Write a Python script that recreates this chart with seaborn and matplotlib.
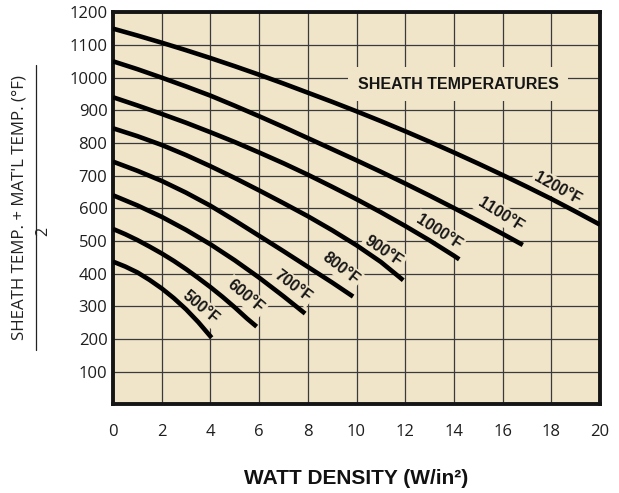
import numpy as np
import pandas as pd
import matplotlib
matplotlib.use("Agg")
import matplotlib.pyplot as plt
from matplotlib.lines import Line2D
import seaborn as sns

# ---------------- data ----------------
curve_names = ["500°F", "600°F", "700°F", "800°F", "900°F", "1000°F", "1100°F", "1200°F"]

x_500 = [0, 0.5, 1, 1.5, 2, 2.5, 3, 3.5, 4.05]
y_500 = [437, 422, 404, 381, 355, 325, 291, 252, 204]

x_600 = [0, 0.5, 1, 1.5, 2, 2.5, 3, 3.5, 4, 4.5, 5, 5.5, 5.9]
y_600 = [537, 521, 503, 483, 462, 439, 414, 387, 359, 329, 297, 263, 238]

x_700 = [0, 1, 2, 3, 4, 5, 6, 7, 7.89]
y_700 = [640, 609, 574, 534, 490, 441, 388, 331, 278]

x_800 = [0, 1, 2, 3, 4, 5, 6, 7, 8, 9, 9.86]
y_800 = [743, 715, 684, 648, 608, 563, 516, 469, 421, 373, 330]

x_900 = [0, 1, 2, 3, 4, 5, 6, 7, 8, 9, 10, 11, 11.92]
y_900 = [845, 821, 794, 763, 729, 693, 655, 616, 576, 533, 487, 436, 380]

x_1000 = [0, 1, 2, 3, 4, 5, 6, 7, 8, 9, 10, 11, 12, 13, 14, 14.22]
y_1000 = [940, 915, 889, 862, 833, 803, 771, 738, 703, 666, 628, 588, 546, 502, 455, 444]

x_1100 = [0, 1, 2, 3, 4, 5, 6, 7, 8, 9, 10, 11, 12, 13, 14, 15, 16, 16.83]
y_1100 = [1050, 1026, 1000, 973, 945, 914, 882, 849, 815, 781, 747, 712, 676, 639, 601, 562, 522, 488]

x_1200 = list(range(0, 21))
y_1200 = [1150, 1129, 1107, 1084, 1060, 1035, 1009, 982, 954, 926, 897,
          867, 836, 804, 771, 737, 702, 666, 629, 590, 550]

x_ticks = [0, 2, 4, 6, 8, 10, 12, 14, 16, 18, 20]
y_ticks = [100, 200, 300, 400, 500, 600, 700, 800, 900, 1000, 1100, 1200]

title_text = "SHEATH TEMPERATURES"
x_label = "WATT DENSITY (W/in²)"
y_label_top = "SHEATH TEMP. + MAT'L TEMP. (°F)"
y_label_bottom = "2"

# label layout (position in data units, rotation in degrees)
label_pos = [(3.6, 297), (5.45, 330), (7.38, 362), (9.35, 416),
             (11.12, 469), (13.38, 528), (15.92, 582), (18.27, 661)]
label_rot = [-40, -40, -37, -38, -34, -33, -32, -29]
title_pos = (14.18, 980)

# ---------------- build table ----------------
xs = [x_500, x_600, x_700, x_800, x_900, x_1000, x_1100, x_1200]
ys = [y_500, y_600, y_700, y_800, y_900, y_1000, y_1100, y_1200]
frames = []
for name, xv, yv in zip(curve_names, xs, ys):
    frames.append(pd.DataFrame({"watt": xv, "temp": yv, "curve": name}))
df = pd.concat(frames, ignore_index=True)

# ---------------- style ----------------
bg = "#f0e4c9"
sns.set_theme(style="white")
plt.rcParams["font.family"] = ["Liberation Sans", "DejaVu Sans"]

W, H = 619, 493
fig = plt.figure(figsize=(W / 100, H / 100), dpi=100)
ax = fig.add_axes([113 / W, 1 - 404.4 / H, (600 - 113) / W, (404.4 - 12.3) / H])
ax.set_facecolor(bg)

sns.lineplot(data=df, x="watt", y="temp", hue="curve", palette=["black"] * len(curve_names),
             linewidth=3.3, legend=False, estimator=None, sort=True, ax=ax, zorder=4)
for ln in ax.get_lines():
    ln.set_solid_capstyle("butt")
    ln.set_solid_joinstyle("round")

ax.set_xlim(0, 20)
ax.set_ylim(0, 1200)
ax.set_xticks(x_ticks)
ax.set_yticks(y_ticks)
ax.set_xticklabels([str(v) for v in x_ticks], fontfamily="Open Sans", fontsize=12)
ax.set_yticklabels([str(v) for v in y_ticks], fontfamily="Open Sans", fontsize=12)
ax.tick_params(axis="x", length=0, pad=14, colors="#1e1e1e")
ax.tick_params(axis="y", length=0, pad=4, colors="#1e1e1e")
ax.set_xlabel("")
ax.set_ylabel("")
ax.set_axisbelow(True)
ax.grid(True, color="#3a3a3a", linewidth=0.9)
for sp in ax.spines.values():
    sp.set_visible(True)
    sp.set_color("#151515")
    sp.set_linewidth(2.8)

for name, (lx, ly), rot in zip(curve_names, label_pos, label_rot):
    ax.text(lx, ly, name, rotation=rot, rotation_mode="anchor", ha="center", va="center",
            fontsize=11.3, fontweight="bold", color="#151515", zorder=3,
            bbox=dict(facecolor=bg, edgecolor="none", boxstyle="square,pad=0.15"))

ax.text(title_pos[0], title_pos[1], title_text, ha="center", va="center",
        fontsize=11.5, fontweight="bold", color="#151515", zorder=3,
        bbox=dict(facecolor=bg, edgecolor="none", boxstyle="square,pad=0.6"))

fig.text(356 / W, 1 - 478 / H, x_label, ha="center", va="center",
         fontsize=15, fontweight="bold", color="#111111")
fig.text(20 / W, 1 - 208 / H, y_label_top, rotation=90, ha="center", va="center",
         fontsize=12.2, fontfamily="Open Sans", color="#222222")
fig.add_artist(Line2D([35.7 / W, 35.7 / W], [1 - 65 / H, 1 - 350 / H],
                      transform=fig.transFigure, color="#222222", linewidth=0.9))
fig.text(43 / W, 1 - 231 / H, y_label_bottom, rotation=90, ha="center", va="center",
         fontsize=11.5, fontfamily="Open Sans", color="#222222")

fig.savefig("out.png", dpi=100, facecolor="white")
